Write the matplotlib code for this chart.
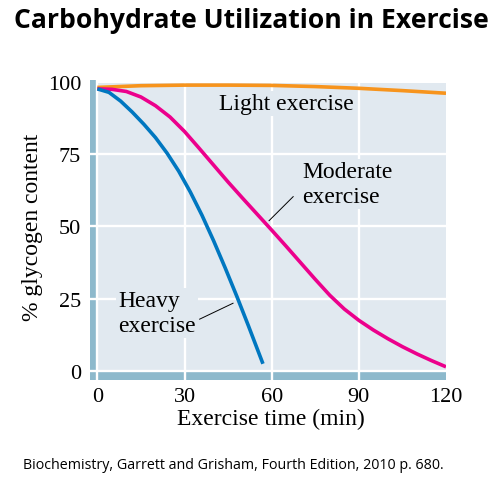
import matplotlib
matplotlib.use("Agg")
import matplotlib.pyplot as plt
from matplotlib.patches import Rectangle

# ---- data ----
heavy_t = [0, 4, 8, 12, 16, 20, 24, 28, 32, 36, 40, 44, 48, 52, 57]
heavy_y = [97.5, 96.3, 93.3, 89.5, 85.3, 80.7, 75.3, 69.1, 61.9, 53.9, 45.1, 35.7, 25.9, 15.7, 2.6]

mod_t = [0, 5, 10, 15, 20, 25, 30, 35, 40, 45, 50, 55, 60,
         65, 70, 75, 80, 85, 90, 95, 100, 105, 110, 115, 120]
mod_y = [97.5, 97.35, 96.6, 94.7, 91.7, 87.8, 82.8, 77.05, 71.2, 65.35, 59.75, 54.25, 48.75,
         43.15, 37.45, 31.75, 26.25, 21.5, 17.6, 14.25, 11.25, 8.5, 6.0, 3.7, 1.55]

light_t = [0, 15, 30, 45, 60, 75, 90, 105, 120]
light_y = [98.0, 98.6, 98.8, 98.8, 98.7, 98.3, 97.7, 96.9, 96.0]

x_ticks = [0, 30, 60, 90, 120]
y_ticks = [0, 25, 50, 75, 100]

BG = "#E1E9F0"
BAR = "#8DB9CC"
SERIF = "Liberation Serif"
H = 481.0


def fy(px):
    # pixel row (from top) -> figure fraction
    return 1 - px / H


fig = plt.figure(figsize=(5.0, 4.81), dpi=100)
ax = fig.add_axes([0.179, 0.2079, 0.713, 0.6233])
ax.set_xlim(-2.7, 120)
ax.set_ylim(-3.0, 100.5)
ax.set_facecolor("white")
for s in ax.spines.values():
    s.set_visible(False)

# background panel and thick blue "axes"
ax.add_patch(Rectangle((0, 0), 120, 99.6, facecolor=BG, edgecolor="none", zorder=0))
ax.add_patch(Rectangle((-2.7, -3.0), 2.7, 103.5, facecolor=BAR, edgecolor="none", zorder=0))
ax.add_patch(Rectangle((-2.7, -3.0), 122.7, 2.7, facecolor=BAR, edgecolor="none", zorder=0))

# white grid running through the bars
for xv in x_ticks[:-1]:
    ax.plot([xv, xv], [-3.0, 100.5 if xv == 0 else 99.6], color="white", lw=1.7, zorder=1,
            solid_capstyle="butt")
for yv in y_ticks[:-1]:
    ax.plot([-2.7, 120], [yv, yv], color="white", lw=1.7, zorder=1, solid_capstyle="butt")

ax.plot(light_t, light_y, color="#F7941D", lw=2.6, zorder=3, solid_capstyle="butt")
ax.plot(mod_t, mod_y, color="#EC008C", lw=2.6, zorder=3, solid_capstyle="butt")
ax.plot(heavy_t, heavy_y, color="#0077C0", lw=2.6, zorder=3, solid_capstyle="butt")

ax.set_xticks(x_ticks)
ax.set_yticks(y_ticks)
ax.tick_params(length=0, labelsize=16)
ax.tick_params(axis="x", pad=5)
ax.tick_params(axis="y", pad=6)
for lab in ax.get_xticklabels() + ax.get_yticklabels():
    lab.set_family(SERIF)

# labels on the curves (baseline of the last line is the anchor)
box = dict(facecolor=BG, edgecolor="none", pad=1.5)
ax.text(42.0, 90.5, "Light exercise", family=SERIF, fontsize=17, ha="left", va="baseline",
        bbox=box, zorder=2)
ax.text(70.4, 58.5, "Moderate\nexercise", family=SERIF, fontsize=17, ha="left", va="baseline",
        linespacing=1.25, bbox=box, zorder=2)
ax.text(7.1, 14.0, "Heavy\nexercise", family=SERIF, fontsize=17, ha="left", va="baseline",
        linespacing=1.22, bbox=box, zorder=2)

# leader lines
ax.plot([67.4, 59.1], [60.3, 52.0], color="black", lw=0.7, zorder=4)
ax.plot([35.2, 46.7], [18.0, 23.5], color="black", lw=0.7, zorder=4)

fig.text(32.5 / 500, fy(227), "% glycogen content", family=SERIF, fontsize=17,
         rotation=90, ha="center", va="center")
fig.text(271 / 500, fy(425), "Exercise time (min)", family=SERIF, fontsize=17,
         ha="center", va="baseline")

fig.text(251 / 500, fy(28.3), "Carbohydrate Utilization in Exercise", family="Open Sans",
         fontweight="bold", fontsize=19.1, ha="center", va="baseline")
fig.text(233.4 / 500, fy(469.3), "Biochemistry, Garrett and Grisham, Fourth Edition, 2010 p. 680.",
         family="Open Sans", fontsize=10.25, ha="center", va="baseline")

fig.savefig("out.png", dpi=100)
